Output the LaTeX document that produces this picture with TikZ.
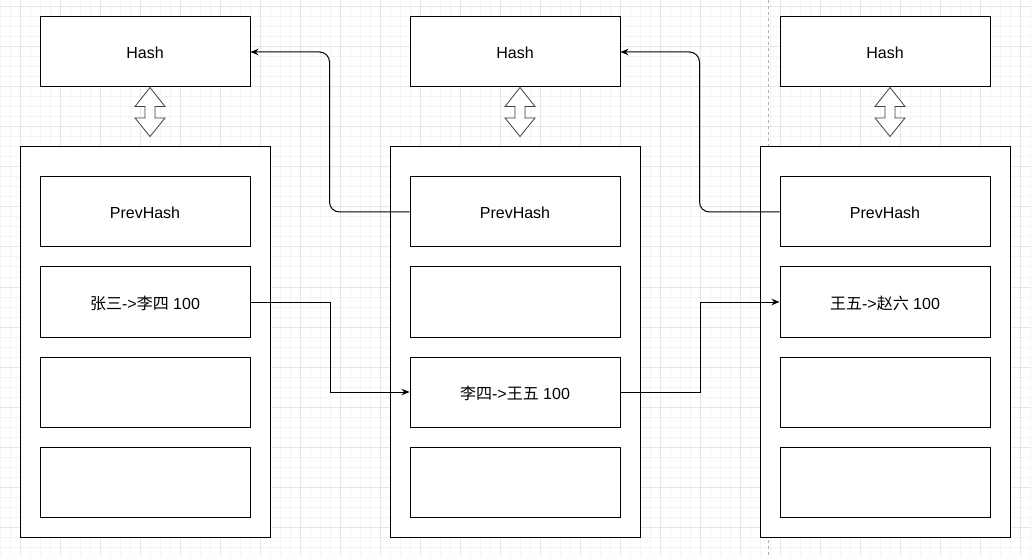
\documentclass[tikz,border=0pt]{standalone}
\usepackage{fontspec}
\setmainfont{Liberation Sans}
\newfontfamily\cjk{Noto Sans CJK SC}
\usetikzlibrary{arrows.meta}
\definecolor{gridminor}{HTML}{F4F4F4}
\definecolor{gridmajor}{HTML}{E6E6E6}
\definecolor{dashgray}{HTML}{B0B0B0}
\definecolor{dblgray}{HTML}{404040}
\tikzset{
  box/.style={draw, fill=white, line width=1pt, minimum width=210pt, minimum height=70pt, inner sep=0pt, text height=14pt, text depth=0pt, font=\fontsize{16}{19}\selectfont},
  container/.style={draw, fill=white, line width=1pt, minimum width=250pt, minimum height=390pt, inner sep=0pt},
  conn/.style={draw, line width=1pt, -{Stealth[length=8pt,width=6.5pt]}},
  dblarrow/.style={draw=dblgray, fill=white, line width=0.8pt, line join=miter}
}
\begin{document}
\begin{tikzpicture}[x=1pt,y=-1pt]
\useasboundingbox (0,0) rectangle (1031,556);
\fill[white] (0,0) rectangle (1031,556);
% grid
\foreach \x in {0,10,...,1030} \draw[gridminor, line width=1pt] (\x,0) -- (\x,556);
\foreach \y in {7,17,...,556} \draw[gridminor, line width=1pt] (0,\y) -- (1031,\y);
\foreach \x in {20,60,...,1030} \draw[gridmajor, line width=1pt] (\x,0) -- (\x,556);
\foreach \y in {7,47,...,556} \draw[gridmajor, line width=1pt] (0,\y) -- (1031,\y);
% dashed separator
\draw[dashgray, line width=1pt, dash pattern=on 3pt off 3pt] (768,0) -- (768,556);

% block 1
\node[box] (h1) at (145,52) {Hash};
\node[container] (c1) at (145,342) {};
\node[box] (p1) at (145,212) {PrevHash};
\node[box] (t1a) at (145,302) {{\cjk 张三}->{\cjk 李四} 100};
\node[box] (t1b) at (145,392) {};
\node[box] (t1c) at (145,482) {};
% block 2
\node[box] (h2) at (515,52) {Hash};
\node[container] (c2) at (515,342) {};
\node[box] (p2) at (515,212) {PrevHash};
\node[box] (t2a) at (515,302) {};
\node[box] (t2b) at (515,392) {{\cjk 李四}->{\cjk 王五} 100};
\node[box] (t2c) at (515,482) {};
% block 3
\node[box] (h3) at (885,52) {Hash};
\node[container] (c3) at (885,342) {};
\node[box] (p3) at (885,212) {PrevHash};
\node[box] (t3a) at (885,302) {{\cjk 王五}->{\cjk 赵六} 100};
\node[box] (t3b) at (885,392) {};
\node[box] (t3c) at (885,482) {};

% double arrows
\foreach \cx in {150,520,890} {
  \draw[dblarrow] (\cx-15,106.5) -- (\cx,87.5) -- (\cx+15,106.5) -- (\cx+5,106.5) -- (\cx+5,118) -- (\cx+15,118) -- (\cx,136.5) -- (\cx-15,118) -- (\cx-5,118) -- (\cx-5,106.5) -- cycle;
}

% connectors
\draw[conn, rounded corners=10pt] (p2.west) -- ++(-80,0) |- (h1.east);
\draw[conn, rounded corners=10pt] (p3.west) -- ++(-80,0) |- (h2.east);
\draw[conn] (t1a.east) -- ++(80,0) |- (t2b.west);
\draw[conn] (t2b.east) -- ++(80,0) |- (t3a.west);
\end{tikzpicture}
\end{document}
